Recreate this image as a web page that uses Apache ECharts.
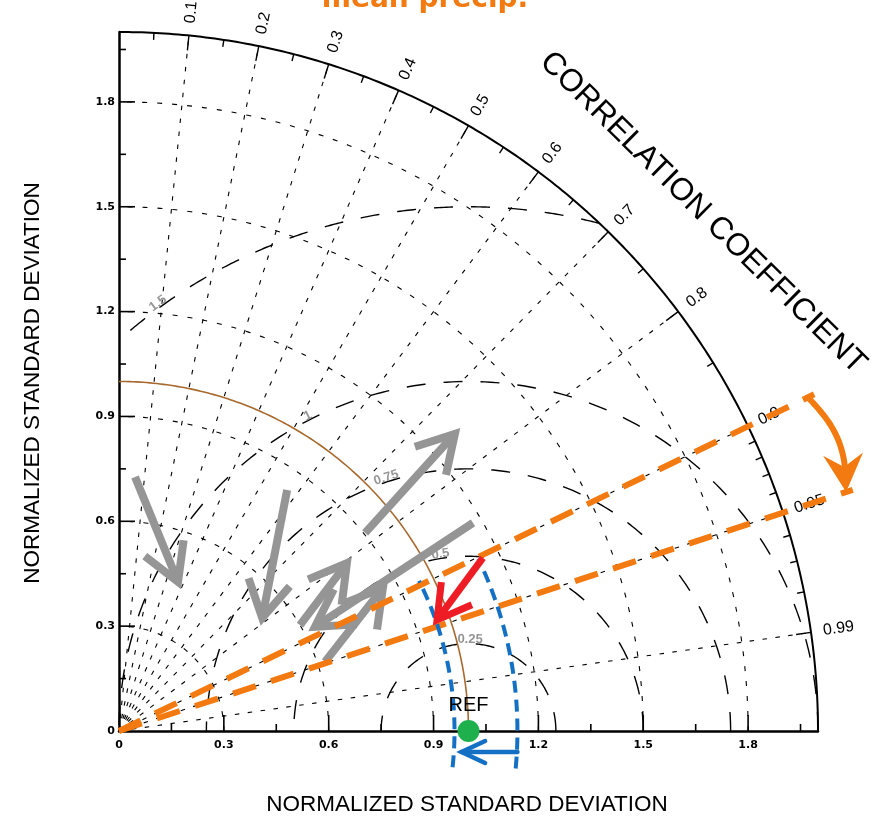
<!DOCTYPE html>
<html>
<head>
<meta charset="utf-8">
<script src="https://cdn.jsdelivr.net/npm/echarts@6.0.0/dist/echarts.min.js"></script>
<style>
html,body{margin:0;padding:0;background:#ffffff;}
#chart{width:885px;height:819px;}
</style>
</head>
<body>
<div id="chart"></div>
<script>
// ---------------- data ----------------
const chartTitle = 'mean precip.';
const xTitle = 'NORMALIZED STANDARD DEVIATION';
const yTitle = 'NORMALIZED STANDARD DEVIATION';
const corrTitle = 'CORRELATION COEFFICIENT';
const refLabel = 'REF';

const stdTickLabels = ['0', '0.3', '0.6', '0.9', '1.2', '1.5', '1.8'];
const stdMajorTicks = [0.3, 0.6, 0.9, 1.2, 1.5, 1.8];
const stdMinorTicks = [0.15, 0.45, 0.75, 1.05, 1.35, 1.65, 1.95];
const stdMax = 2.0;
const stdArcs = [0.3, 0.6, 0.9, 1.2, 1.5, 1.8];

const corrLines = [0.1, 0.2, 0.3, 0.4, 0.5, 0.6, 0.7, 0.8, 0.9, 0.95, 0.99];
const corrLabels = ['0.1', '0.2', '0.3', '0.4', '0.5', '0.6', '0.7', '0.8', '0.9', '0.95', '0.99'];
const corrMajorTicks = [0.1, 0.2, 0.3, 0.4, 0.5, 0.6, 0.7, 0.8, 0.9, 0.95, 0.99];
const corrMinorTicks = [0.05, 0.15, 0.25, 0.35, 0.45, 0.55, 0.65, 0.75, 0.85,
                        0.91, 0.92, 0.93, 0.94, 0.96, 0.97, 0.98];

const rmsArcs = [0.25, 0.5, 0.75, 1.0, 1.5];
const rmsLabels = ['0.25', '0.5', '0.75', '1', '1.5'];

const refStd = 1.0;
const refCorr = 1.0;

// gray arrows: from (std, corr) -> to (std, corr)
const grayFromStd  = [0.728, 0.841, 0.904, 1.175, 0.622, 0.600];
const grayFromCorr = [0.063, 0.572, 0.779, 0.862, 0.948, 0.863];
const grayToStd    = [0.459, 0.522, 1.283, 0.635, 0.859, 0.810];
const grayToCorr   = [0.368, 0.785, 0.749, 0.883, 0.879, 0.805];

// highlighted (red) arrow
const redFromStd  = [1.153];
const redFromCorr = [0.903];
const redToStd    = [0.964];
const redToCorr   = [0.944];

// orange correlation band and blue std band
const bandCorr = [0.9, 0.95];
const bandStd = [0.96, 1.14];
const blueArrowStd = [1.14, 0.98];

// ---------------- helpers ----------------
const DEG = Math.PI / 180;
function pol(std, corr) {
  return [std * corr, std * Math.sqrt(Math.max(0, 1 - corr * corr))];
}
function arc(cx, cy, r, a0, a1, n) {
  const pts = [];
  for (let i = 0; i <= n; i++) {
    const a = (a0 + (a1 - a0) * i / n) * DEG;
    pts.push([cx + r * Math.cos(a), cy + r * Math.sin(a)]);
  }
  return pts;
}
function line(pts, stroke, width, dash, extra) {
  return Object.assign({
    type: 'polyline',
    shape: { points: pts },
    style: { stroke: stroke, lineWidth: width, lineDash: dash || null, fill: 'none' }
  }, extra || {});
}
function arrowEls(p0, p1, len, angDeg, width, color, cap) {
  const dx = p1[0] - p0[0], dy = p1[1] - p0[1];
  const L = Math.hypot(dx, dy);
  const ux = dx / L, uy = dy / L;
  const a = angDeg * DEG;
  const rot = (x, y, t) => [x * Math.cos(t) - y * Math.sin(t), x * Math.sin(t) + y * Math.cos(t)];
  const w1 = rot(-ux, -uy, a), w2 = rot(-ux, -uy, -a);
  const s = { stroke: color, lineWidth: width, fill: 'none', lineCap: cap || 'butt', lineJoin: 'miter', miterLimit: 10 };
  return [
    { type: 'polyline', shape: { points: [p0, p1] }, style: Object.assign({}, s) },
    { type: 'polyline', shape: { points: [[p1[0] + w1[0] * len, p1[1] + w1[1] * len], p1, [p1[0] + w2[0] * len, p1[1] + w2[1] * len]] }, style: Object.assign({}, s) }
  ];
}

const BLACK = '#000000';
const GRAY = '#959595';
const ORANGE = '#f27a10';
const BLUE = '#1470c4';
const RED = '#ee1c24';
const GREEN = '#1fb04e';
const BROWN = '#a8692e';

function cs(name, z, render) {
  return {
    type: 'custom', name: name, coordinateSystem: 'cartesian2d',
    data: [[0, 0]], renderItem: render, clip: false, silent: true, z: z, animation: false
  };
}

// ---------------- renderers ----------------
function rStdArcs(params, api) {
  const c = p => api.coord(p);
  return { type: 'group', children: stdArcs.map(r => line(arc(0, 0, r, 0, 90, 160).map(c), BLACK, 1.1, [5, 10])) };
}
function rCorrLines(params, api) {
  const c = p => api.coord(p);
  return { type: 'group', children: corrLines.map(k => line([c([0, 0]), c(pol(stdMax, k))], BLACK, 1.1, [4.5, 8.5])) };
}
function rRmsArcs(params, api) {
  const c = p => api.coord(p);
  const ch = [];
  rmsArcs.forEach(rho => {
    const cmin = Math.min(1, (stdMax * stdMax - refStd * refStd - rho * rho) / (2 * rho * refStd));
    const cmax = Math.max(-1, -refStd / rho);
    const p0 = Math.acos(cmin) / DEG, p1 = Math.acos(cmax) / DEG;
    ch.push(line(arc(refStd, 0, rho, p0, p1, 200).map(c), BLACK, 1.4, [19, 18]));
  });
  return { type: 'group', children: ch };
}
function rRmsLabels(params, api) {
  const ang = [89, 99, 108, 117, 126];
  const ch = rmsArcs.map((rho, i) => {
    const a = ang[i] * DEG;
    const p = api.coord([refStd + (rho + 0.012) * Math.cos(a), (rho + 0.012) * Math.sin(a)]);
    return {
      type: 'text', x: p[0], y: p[1], rotation: a - Math.PI / 2,
      style: { text: rmsLabels[i], fill: GRAY, font: 'bold 13px "Liberation Sans", Arial, sans-serif', align: 'center', verticalAlign: 'middle' }
    };
  });
  return { type: 'group', children: ch };
}
function rRefArc(params, api) {
  const c = p => api.coord(p);
  return line(arc(0, 0, refStd, 0, 90, 160).map(c), BROWN, 1.6, null);
}
function rFrame(params, api) {
  const c = p => api.coord(p);
  const o = c([0, 0]);
  const u = c([1, 0])[0] - o[0];
  const ch = [];
  ch.push(line(arc(0, 0, stdMax, 0, 90, 240).map(c), BLACK, 2, null));
  const tick = (k, len) => {
    const outer = c(pol(stdMax, k));
    const inner = c(pol(stdMax - len / u, k));
    ch.push(line([outer, inner], BLACK, 1.4, null));
  };
  corrMajorTicks.forEach(k => tick(k, 15));
  corrMinorTicks.forEach(k => tick(k, 7));
  stdMajorTicks.forEach(v => {
    const a = c([v, 0]); ch.push(line([a, [a[0], a[1] - 16]], BLACK, 1.6, null));
    const b = c([0, v]); ch.push(line([b, [b[0] + 16, b[1]]], BLACK, 1.6, null));
  });
  stdMinorTicks.forEach(v => {
    const a = c([v, 0]); ch.push(line([a, [a[0], a[1] - 7]], BLACK, 1.6, null));
    const b = c([0, v]); ch.push(line([b, [b[0] + 7, b[1]]], BLACK, 1.6, null));
  });
  return { type: 'group', children: ch };
}
function rCorrLabels(params, api) {
  const ch = corrLines.map((k, i) => {
    const p = api.coord(pol(2.035, k));
    return {
      type: 'text', x: p[0], y: p[1], rotation: Math.acos(k),
      style: { text: corrLabels[i], fill: BLACK, font: '16px "Liberation Sans", Arial, sans-serif', align: 'left', verticalAlign: 'middle' }
    };
  });
  return { type: 'group', children: ch };
}
function rGrayArrows(params, api) {
  const ch = [];
  grayFromStd.forEach((s, i) => {
    const p0 = api.coord(pol(s, grayFromCorr[i]));
    const p1 = api.coord(pol(grayToStd[i], grayToCorr[i]));
    arrowEls(p0, p1, 42, 30, 8, GRAY).forEach(e => ch.push(e));
  });
  return { type: 'group', children: ch };
}
function rRedArrow(params, api) {
  const ch = [];
  redFromStd.forEach((s, i) => {
    const p0 = api.coord(pol(s, redFromCorr[i]));
    const p1 = api.coord(pol(redToStd[i], redToCorr[i]));
    arrowEls(p0, p1, 38, 30, 7, RED).forEach(e => ch.push(e));
  });
  return { type: 'group', children: ch };
}
function rOrange(params, api) {
  const c = p => api.coord(p);
  const ch = bandCorr.map(k => line([c([0, 0]), c(pol(2.21, k))], ORANGE, 6, [24, 16]));
  // curved arrow between the two correlation lines
  const t0 = Math.acos(bandCorr[0]) / DEG, t1 = Math.acos(bandCorr[1]) / DEG;
  const pts = [];
  const n = 60;
  for (let i = 0; i <= n; i++) {
    const t = i / n;
    const r = 2.19 + 0.03 * Math.sin(Math.PI * t);
    const a = (t0 + (t1 - t0) * t) * DEG;
    pts.push(c([r * Math.cos(a), r * Math.sin(a)]));
  }
  const tip = pts[pts.length - 1];
  let acc = 0, cut = pts.length - 1, dirFrom = pts[0];
  for (let i = pts.length - 1; i > 0; i--) {
    acc += Math.hypot(pts[i][0] - pts[i - 1][0], pts[i][1] - pts[i - 1][1]);
    if (acc >= 24 && cut === pts.length - 1) cut = i - 1;
    if (acc >= 34) { dirFrom = pts[i - 1]; break; }
  }
  const stem = pts.slice(0, cut + 1);
  ch.push(line(stem, ORANGE, 6, null, {}));
  let dx = tip[0] - dirFrom[0], dy = tip[1] - dirFrom[1];
  const L = Math.hypot(dx, dy); dx /= L; dy /= L;
  const nx = -dy, ny = dx;
  ch.push({
    type: 'polygon',
    shape: { points: [tip,
      [tip[0] - 38 * dx + 20 * nx, tip[1] - 38 * dy + 20 * ny],
      [tip[0] - 25 * dx, tip[1] - 25 * dy],
      [tip[0] - 38 * dx - 20 * nx, tip[1] - 38 * dy - 20 * ny]] },
    style: { fill: ORANGE, stroke: 'none' }
  });
  return { type: 'group', children: ch };
}
function rBlue(params, api) {
  const c = p => api.coord(p);
  const ch = [];
  ch.push(line(arc(0, 0, bandStd[0], -6.2, 26.6, 80).map(c), BLUE, 4, [12, 7]));
  ch.push(line(arc(0, 0, bandStd[1], -5.4, 25.6, 80).map(c), BLUE, 4, [12, 7]));
  const p0 = c([blueArrowStd[0], 0]), p1 = c([blueArrowStd[1], 0]);
  const yy = p0[1] + 21;
  arrowEls([p0[0], yy], [p1[0], yy], 26, 25, 4.5, BLUE, 'round').forEach(e => ch.push(e));
  return { type: 'group', children: ch };
}

// ---------------- chart ----------------
const chart = echarts.init(document.getElementById('chart'), null, { renderer: 'canvas' });
const axisLabelStyle = { color: '#000', fontFamily: '"DejaVu Sans", sans-serif', fontWeight: 'bold', fontSize: 11 };
const fmt = v => { const i = Math.round(v / 0.3); return Math.abs(i * 0.3 - v) < 1e-6 && stdTickLabels[i] !== undefined ? stdTickLabels[i] : ''; };

chart.setOption({
  animation: false,
  backgroundColor: '#ffffff',
  grid: { left: 119, top: 32, width: 699, height: 699, containLabel: false, outerBoundsMode: 'none' },
  xAxis: {
    type: 'value', min: 0, max: stdMax, interval: 0.3,
    axisLine: { show: true, onZero: false, lineStyle: { color: '#000', width: 2.5 } },
    axisTick: { show: false }, splitLine: { show: false },
    axisLabel: Object.assign({ margin: 9, showMaxLabel: false, formatter: fmt }, axisLabelStyle)
  },
  yAxis: {
    type: 'value', min: 0, max: stdMax, interval: 0.3,
    axisLine: { show: true, onZero: false, lineStyle: { color: '#000', width: 2.5 } },
    axisTick: { show: false }, splitLine: { show: false },
    axisLabel: Object.assign({ margin: 4, showMaxLabel: false, formatter: fmt }, axisLabelStyle)
  },
  graphic: [
    { type: 'text', x: 425, y: 0, style: { text: chartTitle, fill: ORANGE, font: 'bold 28px "DejaVu Sans", sans-serif', align: 'center', verticalAlign: 'middle' } },
    { type: 'text', x: 467, y: 805, style: { text: xTitle, fill: '#000', font: '22.5px "Liberation Sans", Arial, sans-serif', align: 'center', verticalAlign: 'middle' } },
    { type: 'text', x: 33, y: 383, rotation: Math.PI / 2, style: { text: yTitle, fill: '#000', font: '22.5px "Liberation Sans", Arial, sans-serif', align: 'center', verticalAlign: 'middle' } },
    { type: 'text', x: 703, y: 213, rotation: -44.6 * DEG, style: { text: corrTitle, fill: '#000', font: '31.5px "Liberation Sans", Arial, sans-serif', align: 'center', verticalAlign: 'middle' } }
  ],
  series: [
    cs('stdArcs', 1, rStdArcs),
    cs('corrLines', 1, rCorrLines),
    cs('rmsArcs', 2, rRmsArcs),
    cs('rmsLabels', 2, rRmsLabels),
    cs('refArc', 3, rRefArc),
    cs('frame', 4, rFrame),
    cs('corrLabels', 4, rCorrLabels),
    cs('grayArrows', 5, rGrayArrows),
    cs('orange', 6, rOrange),
    cs('blue', 7, rBlue),
    cs('red', 8, rRedArrow),
    {
      type: 'scatter', name: 'REF', z: 9, clip: false, silent: true,
      data: [pol(refStd, refCorr)], symbol: 'circle', symbolSize: 22,
      itemStyle: { color: GREEN, opacity: 1 },
      emphasis: { disabled: true },
      label: { show: true, position: 'top', distance: 5, formatter: refLabel, color: '#000',
               fontFamily: '"Liberation Sans", Arial, sans-serif', fontSize: 20 }
    }
  ]
});
</script>
</body>
</html>
